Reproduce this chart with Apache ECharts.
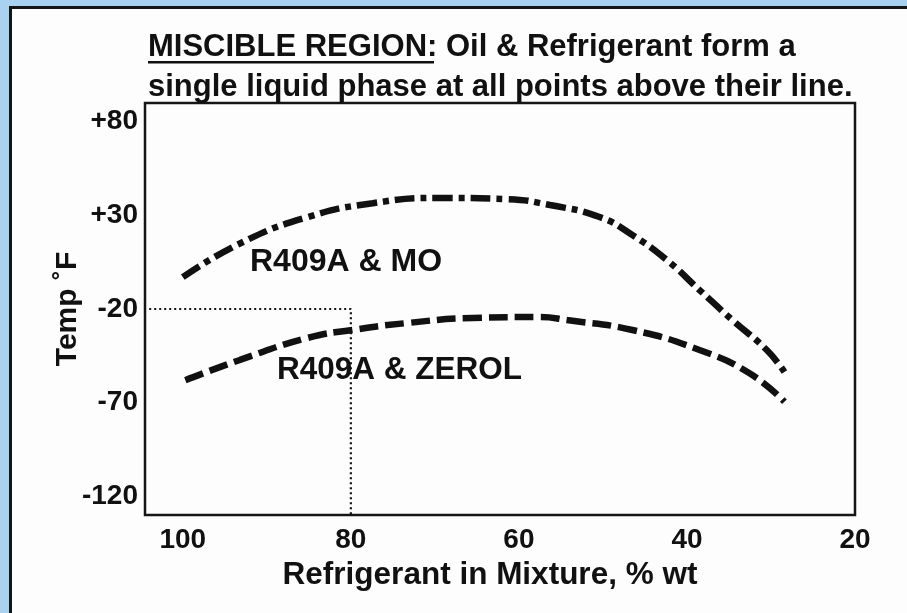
<!DOCTYPE html>
<html>
<head>
<meta charset="utf-8">
<script src="https://cdn.jsdelivr.net/npm/echarts@6/dist/echarts.min.js"></script>
<style>
html,body{margin:0;padding:0;width:907px;height:613px;overflow:hidden;background:#a9d2f1;}
#panel{position:absolute;left:9px;top:6px;width:896px;height:700px;background:#fdfdfd;border-left:3px solid #151515;border-top:3px solid #151515;border-right:1px solid #bbb;}
#chart{position:absolute;left:0;top:0;width:907px;height:613px;}
</style>
</head>
<body>
<div id="panel"></div>
<div id="chart"></div>
<script>
// Refrigerant in mixture (% wt) and miscibility temperature (°F)
const xTicks = [100, 80, 60, 40, 20];
const yTicks = [-120, -70, -20, 30, 80];
const moX = [100, 93.2, 85.2, 77.4, 69.4, 61.5, 56.3, 50.4, 46.5, 42.4, 38.5, 34.6, 30.5, 28.4];
const moY = [-3, 15, 29, 36.5, 39.3, 38.7, 35.5, 29.1, 19.5, 6.2, -9.9, -25.9, -41.9, -53.6];
const zerolX = [99.7, 93.2, 85.2, 79.8, 73.3, 65.5, 57.5, 54.3, 46.5, 38.5, 32.6, 28.4];
const zerolY = [-58, -47.2, -35.5, -31.2, -27.5, -24.8, -24.3, -25.9, -31.2, -41.9, -54.2, -69.5];
const refX = [104, 80, 80];
const refY = [-20, -20, -130];

const FONT = '"Liberation Sans", Arial, Helvetica, sans-serif';
const INK = '#111';
const zip = (a, b) => a.map((v, i) => [v, b[i]]);

const chart = echarts.init(document.getElementById('chart'), null, {renderer: 'canvas'});
chart.setOption({
  backgroundColor: 'transparent',
  animation: false,
  title: {
    text: '{u|MISCIBLE REGION:} Oil & Refrigerant form a\nsingle liquid phase at all points above their line.',
    left: 148, top: 27, padding: 0,
    textStyle: {
      fontFamily: FONT, fontSize: 31, fontWeight: 'bold', color: INK, lineHeight: 40,
      rich: { u: { fontFamily: FONT, fontSize: 31, fontWeight: 'bold', color: INK, lineHeight: 40 } }
    }
  },
  grid: { left: 145, top: 103, width: 710, height: 412, show: true, borderColor: '#151515', borderWidth: 2.5, backgroundColor: 'transparent' },
  xAxis: {
    type: 'value', inverse: true, min: 20, max: 104.5,
    axisLine: { show: false }, axisTick: { show: false }, splitLine: { show: false },
    axisLabel: { customValues: xTicks, fontFamily: FONT, fontSize: 28, fontWeight: 'bold', color: INK, margin: 11, showMinLabel: true, showMaxLabel: true },
    name: 'Refrigerant in Mixture, % wt', nameLocation: 'middle', nameGap: 42,
    nameTextStyle: { fontFamily: FONT, fontSize: 31.5, fontWeight: 'bold', color: INK, padding: [0, 20, 0, 0] }
  },
  yAxis: {
    type: 'value', min: -130, max: 90,
    axisLine: { show: false }, axisTick: { show: false }, splitLine: { show: false },
    axisLabel: { customValues: yTicks, fontFamily: FONT, fontSize: 28, fontWeight: 'bold', color: INK, margin: 7,
      formatter: v => (v > 0 ? '+' + v : String(v)) },
    name: 'Temp ˚F', nameLocation: 'middle', nameGap: 62, nameRotate: 90, nameMoveOverlap: false,
    nameTextStyle: { fontFamily: FONT, fontSize: 30, fontWeight: 'bold', color: INK }
  },
  graphic: [
    { type: 'rect', shape: { x: 148, y: 61, width: 286, height: 2.5 }, style: { fill: INK } },
    { type: 'text', left: 250, top: 246, style: { text: 'R409A & MO', font: 'bold 32px ' + FONT, fill: INK } },
    { type: 'text', left: 277, top: 354, style: { text: 'R409A & ZEROL', font: 'bold 31.5px ' + FONT, fill: INK } }
  ],
  series: [
    { type: 'line', data: zip(refX, refY), symbol: 'none', silent: true,
      lineStyle: { color: '#111', width: 2.2, type: [2, 3] } },
    { type: 'line', data: zip(moX, moY), symbol: 'none', smooth: true,
      lineStyle: { color: INK, width: 6.5, type: [20, 6, 6, 6], cap: 'butt' } },
    { type: 'line', data: zip(zerolX, zerolY), symbol: 'none', smooth: true,
      lineStyle: { color: INK, width: 6.5, type: [19, 7], cap: 'butt' } }
  ]
});
</script>
</body>
</html>
